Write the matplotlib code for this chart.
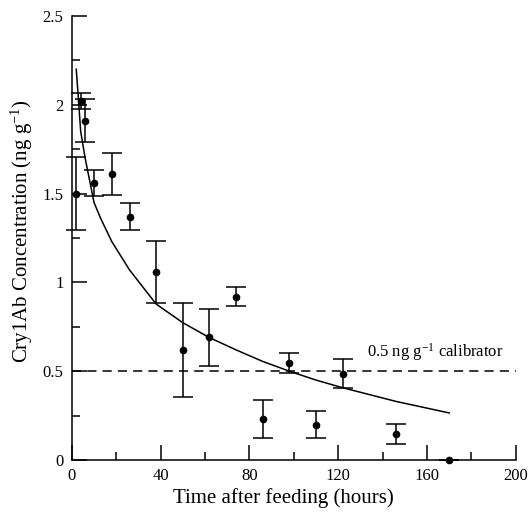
import matplotlib
matplotlib.use('Agg')
import matplotlib.pyplot as plt
from matplotlib.ticker import MultipleLocator

# measured Cry1Ab concentration after feeding
hours = [2, 4, 6, 10, 18, 26, 38, 50, 62, 74, 86, 98, 110, 122, 146, 170]
conc = [1.50, 2.02, 1.91, 1.56, 1.61, 1.37, 1.06, 0.62, 0.69, 0.92, 0.23, 0.545, 0.20, 0.485, 0.145, 0.0]
err = [0.205, 0.045, 0.12, 0.075, 0.12, 0.075, 0.175, 0.265, 0.16, 0.053, 0.108, 0.056, 0.076, 0.081, 0.057, 0.0]

# fitted decay curve
fit_hours = [2, 3, 4, 6, 10, 13, 18, 26, 38, 50, 62, 74, 86, 98, 110, 122, 146, 170]
fit_conc = [2.20, 2.03, 1.85, 1.70, 1.45, 1.36, 1.23, 1.07, 0.878, 0.773, 0.689, 0.62, 0.555, 0.50, 0.45, 0.407, 0.33, 0.265]

calibrator = 0.5

plt.rcParams['font.family'] = ['Liberation Serif', 'DejaVu Serif']
plt.rcParams['mathtext.fontset'] = 'custom'
plt.rcParams['mathtext.rm'] = 'Liberation Serif'
plt.rcParams['mathtext.it'] = 'Liberation Serif:italic'
plt.rcParams['axes.unicode_minus'] = False

fig = plt.figure(figsize=(5.28, 5.14), dpi=100)
ax = fig.add_axes([0.136, 0.105, 0.841, 0.864])

ax.plot(fit_hours, fit_conc, color='black', lw=1.1)
ax.axhline(calibrator, color='black', lw=1.1, ls=(0, (6, 4)))
ax.errorbar(hours, conc, yerr=err, fmt='o', color='black', ms=4.5,
            elinewidth=1.1, capsize=7, capthick=1.1, clip_on=False, zorder=3)

ax.text(133, 0.545, r'0.5 ng g$^{\mathregular{-1}}$ calibrator', fontsize=12, va='bottom')

ax.set_xlim(0, 200)
ax.set_ylim(0, 2.5)
ax.xaxis.set_minor_locator(MultipleLocator(20))
ax.yaxis.set_minor_locator(MultipleLocator(0.25))
ax.set_xticks([0, 40, 80, 120, 160, 200])
ax.set_xticklabels(['0', '40', '80', '120', '160', '200'])
ax.set_yticks([0, 0.5, 1, 1.5, 2, 2.5])
ax.set_yticklabels(['0', '0.5', '1', '1.5', '2', '2.5'])
ax.tick_params(which='major', direction='in', length=11, width=1.1, labelsize=12, pad=6)
ax.tick_params(which='minor', direction='in', length=6, width=1.1)

for side in ['top', 'right']:
    ax.spines[side].set_visible(False)
for side in ['left', 'bottom']:
    ax.spines[side].set_linewidth(1.1)

ax.set_xlabel('Time after feeding (hours)', fontsize=15)
ax.set_ylabel(r'Cry1Ab Concentration (ng g$^{\mathregular{-1}}$)', fontsize=15)
ax.xaxis.set_label_coords(0.477, -0.064)
ax.yaxis.set_label_coords(-0.082, 0.515)

fig.savefig('out.png', dpi=100)
